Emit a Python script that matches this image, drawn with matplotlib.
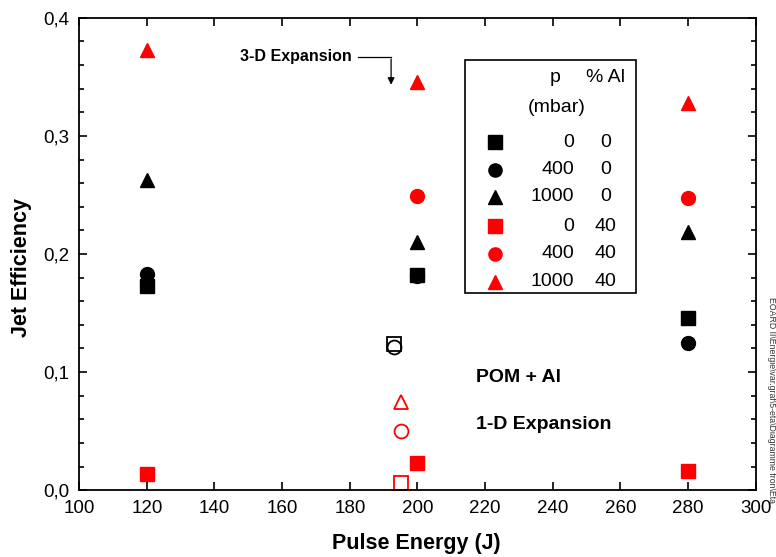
import numpy as np
import matplotlib.pyplot as plt
from matplotlib.ticker import MultipleLocator, FuncFormatter
from matplotlib.patches import Rectangle
from matplotlib.lines import Line2D

plt.rcParams['font.family'] = ['Liberation Sans', 'DejaVu Sans']

# 3-D expansion (filled markers)
energy = [120, 200, 280]
al0_p0 = [0.173, 0.182, 0.146]
al0_p400 = [0.183, 0.181, 0.125]
al0_p1000 = [0.263, 0.210, 0.219]
al40_p0 = [0.014, 0.023, 0.016]
al40_p400 = [np.nan, 0.249, 0.247]
al40_p1000 = [0.373, 0.346, 0.328]

# 1-D expansion (open markers)
energy_1d_al0 = [193, 193]
eta_1d_al0 = [0.124, 0.121]
marks_1d_al0 = ['s', 'o']
energy_1d_al40 = [195, 195, 195]
eta_1d_al40 = [0.006, 0.050, 0.075]
marks_1d_al40 = ['s', 'o', '^']

legend_p = ['0', '400', '1000', '0', '400', '1000']
legend_al = ['0', '0', '0', '40', '40', '40']

fig = plt.figure(figsize=(7.76, 5.57), dpi=100)
ax = fig.add_axes([0.102, 0.12, 0.872, 0.848])

ms = 10
series = [(al0_p0, 's', 'k'), (al0_p400, 'o', 'k'), (al0_p1000, '^', 'k'),
          (al40_p0, 's', 'r'), (al40_p400, 'o', 'r'), (al40_p1000, '^', 'r')]
for vals, m, c in series:
    ax.plot(energy, vals, ls='none', marker=m, color=c, ms=ms, mec=c)

for x, y, m in zip(energy_1d_al0, eta_1d_al0, marks_1d_al0):
    ax.plot(x, y, ls='none', marker=m, mfc='none', mec='k', ms=ms, mew=1.3)
for x, y, m in zip(energy_1d_al40, eta_1d_al40, marks_1d_al40):
    ax.plot(x, y, ls='none', marker=m, mfc='none', mec='r', ms=ms, mew=1.3)

ax.set_xlim(100, 300)
ax.set_ylim(0, 0.4)
ax.xaxis.set_major_locator(MultipleLocator(20))
ax.yaxis.set_major_locator(MultipleLocator(0.1))
ax.yaxis.set_minor_locator(MultipleLocator(0.02))
ax.yaxis.set_major_formatter(FuncFormatter(lambda v, p: ('%.1f' % v).replace('.', ',')))
ax.tick_params(which='both', direction='in', top=True, right=True, labelsize=13.5, width=1.2)
ax.tick_params(which='major', length=5.5, pad=7)
ax.tick_params(which='minor', length=3.5)
for s in ax.spines.values():
    s.set_linewidth(1.3)

ax.set_xlabel('Pulse Energy (J)', fontsize=15.5, fontweight='bold')
ax.set_ylabel('Jet Efficiency', fontsize=15.5, fontweight='bold')
ax.xaxis.set_label_coords(0.498, -0.091)
ax.yaxis.set_label_coords(-0.069, 0.472)

# legend box drawn by hand
ax.add_patch(Rectangle((0.570, 0.417), 0.253, 0.494, transform=ax.transAxes,
                       fill=False, ec='k', lw=1.2, zorder=5))
fs = 14
ax.text(0.703, 0.873, 'p', transform=ax.transAxes, ha='center', va='center', fontsize=fs)
ax.text(0.778, 0.873, '% Al', transform=ax.transAxes, ha='center', va='center', fontsize=fs)
ax.text(0.706, 0.811, '(mbar)', transform=ax.transAxes, ha='center', va='center', fontsize=fs)
rows_y = [0.737, 0.678, 0.621, 0.559, 0.500, 0.441]
for (vals, m, c), yy, p, al in zip(series, rows_y, legend_p, legend_al):
    ax.add_line(Line2D([0.614], [yy], transform=ax.transAxes, marker=m, color=c,
                       ms=9.5, ls='none'))
    ax.text(0.731, yy, p, transform=ax.transAxes, ha='right', va='center', fontsize=fs)
    ax.text(0.778, yy, al, transform=ax.transAxes, ha='center', va='center', fontsize=fs)

ax.text(0.586, 0.239, 'POM + Al', transform=ax.transAxes, ha='left', va='center',
        fontsize=14, fontweight='bold')
ax.text(0.586, 0.140, '1-D Expansion', transform=ax.transAxes, ha='left', va='center',
        fontsize=14, fontweight='bold')

ax.text(180.6, 0.367, '3-D Expansion', ha='right', va='center', fontsize=11.5, fontweight='bold')
ax.plot([182.4, 192.2], [0.367, 0.367], color='k', lw=0.9)
ax.annotate('', xy=(192.2, 0.341), xytext=(192.2, 0.3675),
            arrowprops=dict(arrowstyle='-|>', color='k', lw=0.9, mutation_scale=10))

fig.text(0.994, 0.282, 'EOARD II\\Energie\\var.graf\\5-eta\\Diagramme fron\\Eta',
         rotation=-90, ha='center', va='center', fontsize=6.3, color='#333333')

fig.savefig('out.png', dpi=100)
